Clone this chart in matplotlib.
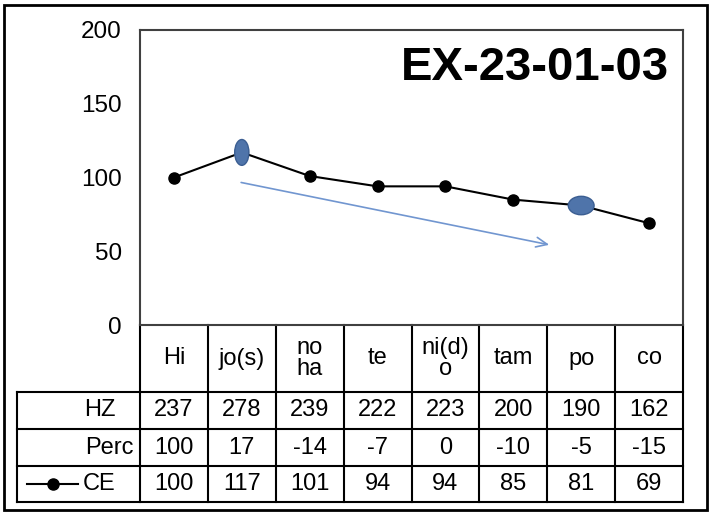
import matplotlib.pyplot as plt
import numpy as np
from matplotlib.patches import Ellipse, Rectangle
from matplotlib.transforms import blended_transform_factory

plt.rcParams['font.family'] = ['Liberation Sans', 'DejaVu Sans']

categories = ['Hi', 'jo(s)', 'no\nha', 'te', 'ni(d)\no', 'tam', 'po', 'co']
hz = [237, 278, 239, 222, 223, 200, 190, 162]
perc = [100, 17, -14, -7, 0, -10, -5, -15]
ce = [100, 117, 101, 94, 94, 85, 81, 69]
row_names = ['HZ', 'Perc', 'CE']
title = 'EX-23-01-03'

W, H = 711, 515
fig = plt.figure(figsize=(W / 100, H / 100), dpi=100)
# outer frame
fig.patches.append(Rectangle((4 / W, 5 / H), 703 / W, 505 / H, transform=fig.transFigure,
                             fill=False, edgecolor='black', lw=2))

ax = fig.add_axes([140 / W, 1 - 325 / H, 543 / W, 295 / H])
x = np.arange(len(categories))
ax.plot(x, ce, color='black', lw=1.5, marker='o', markersize=8, zorder=3)
ax.set_xlim(-0.5, len(categories) - 0.5)
ax.set_ylim(0, 200)
ax.set_yticks([0, 50, 100, 150, 200])
ax.set_xticks([])
ax.tick_params(axis='y', length=0, pad=13, labelsize=17.5)
for s in ax.spines.values():
    s.set_color('#404040')
    s.set_linewidth(1.5)

ax.text(0.975, 0.87, title, transform=ax.transAxes, ha='right', va='center',
        fontsize=34, fontweight='bold')

# highlighted points
ax.add_patch(Ellipse((1, ce[1]), 0.21, 17.5, facecolor='#4f74aa', edgecolor='#3b5e92', lw=1, zorder=4))
ax.add_patch(Ellipse((6, ce[6]), 0.38, 12.5, facecolor='#4f74aa', edgecolor='#3b5e92', lw=1, zorder=4))
ax.annotate('', xy=(5.57, 54), xytext=(0.95, 97),
            arrowprops=dict(arrowstyle='->,head_length=0.8,head_width=0.35', color='#7196d0', lw=1.2))

# data table below the axis
tr = blended_transform_factory(ax.transData, ax.transAxes)
px = 295.0
rows_y = [0, -67 / px, -104 / px, -141 / px, -177 / px]
left = -0.5 - 123 / 67.875
lk = dict(color='black', lw=1.5, transform=tr, clip_on=False)
for k in range(len(categories) + 1):
    ax.plot([k - 0.5, k - 0.5], [rows_y[0], rows_y[-1]], **lk)
ax.plot([left, left], [rows_y[1], rows_y[-1]], **lk)
for yy in rows_y[1:]:
    ax.plot([left, len(categories) - 0.5], [yy, yy], **lk)

fs = 17
for i, c in enumerate(categories):
    ax.text(i, (rows_y[0] + rows_y[1]) / 2, c, transform=tr, ha='center', va='center',
            fontsize=fs, linespacing=0.95)
for r, vals in enumerate([hz, perc, ce]):
    yc = (rows_y[r + 1] + rows_y[r + 2]) / 2
    for i, v in enumerate(vals):
        ax.text(i, yc, str(v), transform=tr, ha='center', va='center', fontsize=fs)

name_right = [-0.5 - 24 / 67.875, -0.5 - 6 / 67.875, -0.5 - 24 / 67.875]
for r, n in enumerate(row_names):
    yc = (rows_y[r + 1] + rows_y[r + 2]) / 2
    ax.text(name_right[r], yc, n, transform=tr, ha='right', va='center', fontsize=fs)

# legend key for CE
yc = (rows_y[3] + rows_y[4]) / 2
ax.plot([left + 10 / 67.875, left + 61 / 67.875], [yc, yc], color='black', lw=1.5,
        transform=tr, clip_on=False)
ax.plot([left + 36 / 67.875], [yc], marker='o', color='black', markersize=8,
        transform=tr, clip_on=False)

fig.savefig('out.png', dpi=100)
